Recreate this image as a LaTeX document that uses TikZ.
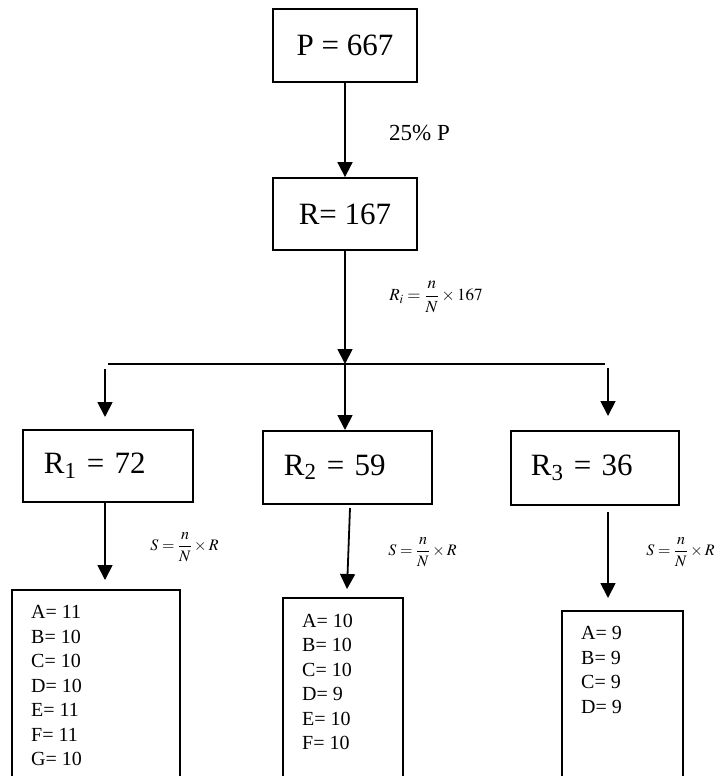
\documentclass[tikz,border=0pt]{standalone}
\usepackage{mathptmx}
\usepackage[no-math]{fontspec}
\setmainfont{Liberation Serif}
\usetikzlibrary{arrows.meta}
\tikzset{
  box/.style={draw, line width=1.8pt, rectangle, inner sep=0pt},
  big/.style={font=\fontsize{31}{37}\selectfont},
  lst/.style={inner sep=0pt, anchor=north west, align=left, font=\fontsize{20}{24.5}\selectfont},
  conn/.style={line width=1.8pt, -{Triangle[length=15pt,width=15pt]}},
  plain/.style={line width=1.8pt},
  frm/.style={inner sep=0pt, font=\fontsize{16}{19}\selectfont}
}
\begin{document}
\begin{tikzpicture}[x=1pt,y=-1pt]
\useasboundingbox (0,0) rectangle (717,776);
\clip (0,0) rectangle (717,776);
\fill[white] (0,0) rectangle (717,776);
% top boxes
\node[box, big, minimum width=144pt, minimum height=73pt] (P) at (345,45.5) {P = 667};
\node[box, big, minimum width=144pt, minimum height=72pt] (R) at (345,214) {R= 167};
\draw[conn] (P) -- (R);
\node[inner sep=0pt, anchor=base west, font=\fontsize{23}{27}\selectfont] (pct) at (389,140) {25\% P};
% junction
\coordinate (J) at (345,364);
\coordinate (HL) at (108,364);
\coordinate (HR) at (605,364);
\draw[conn] (R) -- (J);
\draw[plain] (HL) -- (HR);
\node[frm, font=\fontsize{17}{20}\selectfont] (fR) at (436,297) {$\displaystyle R_i=\frac{n}{N}\times 167$};
% second level
\node[box, big, anchor=north west, minimum width=170pt, minimum height=72pt, text width=128pt, align=left, inner xsep=21pt] (R1) at (22,429) {R\textsubscript{1} = 72};
\node[box, big, anchor=north west, minimum width=169pt, minimum height=73pt, text width=127pt, align=left, inner xsep=21pt] (R2) at (262,430) {R\textsubscript{2} = 59};
\node[box, big, anchor=north west, minimum width=168pt, minimum height=74pt, text width=128pt, align=left, inner xsep=20pt] (R3) at (510,430) {R\textsubscript{3} = 36};
\coordinate (a1s) at (105,369);
\coordinate (a1e) at (105,417);
\coordinate (a3s) at (608,368);
\coordinate (a3e) at (608,416);
\draw[conn] (a1s) -- (a1e);
\draw[conn] (J) -- (J |- R2.north);
\draw[conn] (a3s) -- (a3e);
% third level boxes
\node[box, anchor=north west, minimum width=168pt, minimum height=260pt] (S1) at (11,589) {};
\node[box, anchor=north west, minimum width=120pt, minimum height=260pt] (S2) at (282,597) {};
\node[box, anchor=north west, minimum width=121pt, minimum height=260pt] (S3) at (561,610) {};
\node[lst] (L1) at (31,605.5) {A= 11\\B= 10\\C= 10\\D= 10\\E= 11\\F= 11\\G= 10};
\node[lst] (L2) at (302,613.5) {A= 10\\B= 10\\C= 10\\D= 9\\E= 10\\F= 10};
\node[lst] (L3) at (581,626.5) {A= 9\\B= 9\\C= 9\\D= 9};
\coordinate (b1s) at (105,501);
\coordinate (b1e) at (105,580);
\coordinate (b2s) at (350,508);
\coordinate (b2e) at (347,589);
\coordinate (b3s) at (608,512);
\coordinate (b3e) at (608,598);
\draw[conn] (b1s) -- (b1e);
\draw[conn] (b2s) -- (b2e);
\draw[conn] (b3s) -- (b3e);
\node[frm] (f1) at (184.5,547) {$\displaystyle S=\frac{n}{N}\times R$};
\node[frm] (f2) at (422.5,552) {$\displaystyle S=\frac{n}{N}\times R$};
\node[frm] (f3) at (680.5,552) {$\displaystyle S=\frac{n}{N}\times R$};
\end{tikzpicture}
\end{document}
